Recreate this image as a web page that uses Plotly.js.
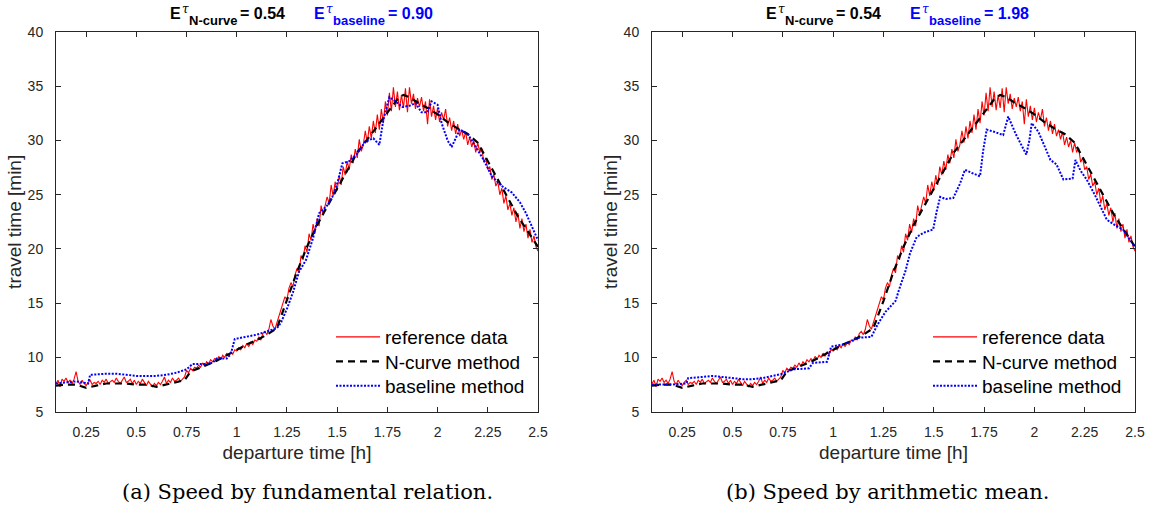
<!DOCTYPE html>
<html>
<head>
<meta charset="utf-8">
<script src="https://cdn.plot.ly/plotly-3.0.1.min.js"></script>
<style>html,body{margin:0;padding:0;background:#fff;}#chart{width:1159px;height:513px;}</style>
</head>
<body>
<div id="chart"></div>
<script>
// ---------------- DATA ----------------
// reference data (red), sampled every 0.01 h starting at 0.10 h (same in both panels)
const refStart = 0.10;
const refStep = 0.01;
const refTravel = [
  7.6, 7.9, 7.3, 8.0, 7.8, 8.1, 7.7, 7.9, 7.6, 8.0,
  8.7, 7.8, 7.5, 7.9, 7.6, 7.4, 7.7, 7.9, 7.5, 7.7,
  7.6, 7.8, 7.5, 7.9, 7.7, 8.0, 7.6, 7.8, 7.9, 7.7,
  8.1, 7.8, 7.6, 7.9, 8.2, 7.7, 7.8, 8.0, 7.6, 7.9,
  7.5, 7.8, 7.6, 8.0, 7.7, 7.4, 7.8, 7.5, 7.3, 7.6,
  7.4, 7.7, 7.5, 7.8, 8.2, 7.6, 7.9, 7.7, 8.1, 7.8,
  7.9, 8.1, 7.8, 8.0, 8.2, 8.8, 8.6, 9.0, 8.8, 9.1,
  9.0, 9.3, 9.1, 9.5, 9.2, 9.6, 9.4, 9.8, 9.6, 9.9,
  9.7, 10.1, 9.8, 10.2, 10.0, 10.4, 10.1, 10.5, 10.3, 10.7,
  10.6, 10.9, 10.7, 11.1, 10.9, 11.3, 11.0, 11.4, 11.2, 11.6,
  11.5, 11.9, 11.6, 12.2, 12.4, 12.1, 12.6, 13.5, 12.9, 12.6,
  13.2, 13.9, 14.3, 14.9, 15.6, 15.3, 16.4, 16.9, 16.5, 17.6,
  18.2, 17.8, 19.4, 19.0, 20.3, 19.7, 21.4, 20.8, 22.3, 21.5,
  22.8, 22.1, 24.0, 23.2, 23.9, 24.8, 24.2, 25.9, 24.9, 26.2,
  25.4, 26.8, 25.9, 27.6, 26.8, 28.1, 27.3, 28.7, 27.9, 29.2,
  28.4, 30.1, 29.0, 29.6, 30.9, 29.8, 31.3, 30.2, 31.8, 30.7,
  32.4, 31.0, 32.9, 31.6, 33.6, 32.3, 34.4, 32.7, 34.9, 33.1,
  34.5, 32.8, 34.2, 33.0, 34.8, 32.6, 34.9, 33.4, 34.3, 32.9,
  33.9, 33.1, 34.0, 32.7, 33.6, 31.5, 33.8, 32.2, 33.2, 31.9,
  33.0, 31.7, 32.6, 31.9, 32.9, 31.3, 32.1, 30.9, 31.8, 30.6,
  31.5, 30.4, 31.0, 30.1, 30.8, 29.6, 30.3, 29.4, 30.0, 28.9,
  29.8, 28.9, 29.3, 28.0, 28.4, 27.3, 27.6, 26.4, 26.9, 25.8,
  26.2, 25.0, 25.6, 24.2, 24.9, 23.6, 24.2, 23.1, 23.8, 22.5,
  23.3, 21.9, 22.8, 21.6, 22.3, 21.0, 21.8, 20.6, 21.2, 20.2,
  19.8
];

// N-curve method (black dashed), same in both panels
const ncurveTime = [0.10, 0.15, 0.20, 0.25, 0.30, 0.35, 0.40, 0.45, 0.50, 0.55, 0.60, 0.65, 0.70, 0.74, 0.77,
  0.80, 0.85, 0.90, 0.95, 1.00, 1.05, 1.10, 1.15, 1.20, 1.25, 1.30, 1.35, 1.40, 1.45, 1.50, 1.55, 1.60, 1.65,
  1.70, 1.75, 1.80, 1.83, 1.86, 1.90, 1.95, 2.00, 2.05, 2.10, 2.15, 2.20, 2.25, 2.30, 2.35, 2.40, 2.45, 2.50];
const ncurveTravel = [7.4, 7.5, 7.5, 7.2, 7.4, 7.6, 7.6, 7.6, 7.5, 7.5, 7.3, 7.5, 7.7, 7.9, 8.7,
  8.9, 9.3, 9.7, 10.2, 10.7, 11.2, 11.6, 12.1, 12.7, 15.2, 17.9, 20.2, 22.2, 23.9, 25.6, 27.3, 28.9, 30.1,
  31.3, 32.6, 33.8, 34.2, 34.0, 33.5, 33.0, 32.4, 31.7, 31.1, 30.6, 29.8, 28.1, 26.3, 24.7, 23.0, 21.6, 20.2];

// baseline method (blue dotted), panel (a): speed by fundamental relation
const baseATime = [0.10, 0.20, 0.26, 0.27, 0.35, 0.40, 0.45, 0.50, 0.55, 0.60, 0.65, 0.70, 0.75, 0.78, 0.80,
  0.85, 0.88, 0.90, 0.95, 0.97, 0.99, 1.05, 1.10, 1.15, 1.20, 1.22, 1.25, 1.28, 1.31, 1.345, 1.38, 1.41, 1.45,
  1.476, 1.50, 1.526, 1.56, 1.60, 1.64, 1.68, 1.71, 1.73, 1.76, 1.79, 1.825, 1.86, 1.89, 1.92, 1.95, 1.97, 2.00,
  2.02, 2.05, 2.07, 2.09, 2.11, 2.15, 2.19, 2.23, 2.27, 2.32, 2.37, 2.41, 2.44, 2.47, 2.50];
const baseATravel = [7.6, 7.8, 7.6, 8.4, 8.5, 8.5, 8.4, 8.3, 8.3, 8.3, 8.4, 8.6, 8.9, 9.4, 9.4,
  9.4, 9.5, 9.9, 9.9, 10.3, 11.7, 11.9, 12.1, 12.4, 12.7, 13.2, 14.5, 16.0, 17.9, 19.0, 21.0, 23.3, 24.0,
  24.8, 26.0, 27.9, 28.1, 28.8, 29.9, 30.2, 29.6, 31.9, 34.0, 33.6, 33.1, 33.2, 33.45, 32.6, 32.6, 33.6, 33.3,
  31.6, 30.0, 29.4, 30.2, 31.0, 30.6, 29.4, 28.2, 26.7, 25.8, 25.2, 24.3, 23.3, 22.0, 20.8];

// baseline method (blue dotted), panel (b): speed by arithmetic mean
const baseBTime = [0.10, 0.20, 0.27, 0.28, 0.35, 0.40, 0.45, 0.50, 0.55, 0.60, 0.65, 0.70, 0.75, 0.80, 0.85,
  0.88, 0.90, 0.97, 0.99, 1.05, 1.10, 1.12, 1.19, 1.22, 1.26, 1.29, 1.31, 1.332, 1.36, 1.382, 1.415, 1.45,
  1.497, 1.515, 1.532, 1.56, 1.597, 1.63, 1.655, 1.69, 1.73, 1.745, 1.763, 1.80, 1.845, 1.87, 1.91, 1.96,
  1.975, 1.987, 2.02, 2.05, 2.08, 2.11, 2.144, 2.19, 2.20, 2.204, 2.23, 2.26, 2.30, 2.36, 2.40, 2.44, 2.47, 2.50];
const baseBTravel = [7.5, 7.5, 7.6, 8.1, 8.2, 8.3, 8.2, 8.1, 8.0, 8.0, 8.1, 8.3, 8.5, 8.9, 9.0,
  9.0, 9.5, 9.6, 11.0, 11.2, 11.6, 11.8, 11.9, 13.0, 14.2, 14.8, 15.2, 16.5, 18.0, 19.6, 21.1, 21.5,
  21.8, 23.5, 24.8, 24.6, 24.7, 26.0, 27.3, 27.0, 26.7, 29.0, 31.0, 30.8, 30.5, 32.2, 30.5, 28.7,
  30.0, 31.6, 30.8, 29.5, 28.2, 27.8, 26.4, 26.5, 27.5, 28.2, 27.2, 26.4, 25.0, 22.7, 22.2, 21.8, 21.0, 20.2];

const xTickVals = [0.25, 0.5, 0.75, 1, 1.25, 1.5, 1.75, 2, 2.25, 2.5];
const xTickText = ["0.25", "0.5", "0.75", "1", "1.25", "1.5", "1.75", "2", "2.25", "2.5"];
const yTickVals = [5, 10, 15, 20, 25, 30, 35, 40];
const seriesNames = ["reference data", "N-curve method", "baseline method"];
const errNcurve = ["0.54", "0.54"];
const errBaseline = ["0.90", "1.98"];
const captions = ["(a) Speed by fundamental relation.", "(b) Speed by arithmetic mean."];

// ---------------- LAYOUT HELPERS ----------------
const W = 1159, H = 513;
const px = v => v / W;
const py = v => 1 - v / H;
const axisColor = '#262626';
const sans = 'Liberation Sans, Arial, sans-serif';

// each panel gets one single-entry legend per series so rows can be spaced like the original
function legendId(panel, k) {
  const n = panel * 3 + k + 1;
  return n === 1 ? 'legend' : 'legend' + n;
}

function traces(panel, bT, bY) {
  const suffix = panel === 0 ? '' : '2';
  const xa = 'x' + suffix, ya = 'y' + suffix;
  return [
    {x0: refStart, dx: refStep, y: refTravel, type: 'scatter', mode: 'lines', name: seriesNames[0],
     line: {color: '#ff0000', width: 1.1}, xaxis: xa, yaxis: ya, legend: legendId(panel, 0)},
    {x: ncurveTime, y: ncurveTravel, type: 'scatter', mode: 'lines', name: seriesNames[1],
     line: {color: '#000000', width: 2.2, dash: '7px,5px'}, xaxis: xa, yaxis: ya, legend: legendId(panel, 1)},
    {x: bT, y: bY, type: 'scatter', mode: 'lines', name: seriesNames[2],
     line: {color: '#0000ff', width: 2, dash: '2px,1.5px'}, xaxis: xa, yaxis: ya, legend: legendId(panel, 2)}
  ];
}

const data = [].concat(
  traces(0, baseATime, baseATravel),
  traces(1, baseBTime, baseBTravel)
);

function xAxis(domain, anchor) {
  return {
    domain: domain, anchor: anchor, range: [0.1, 2.5], tickvals: xTickVals, ticktext: xTickText,
    ticks: 'inside', ticklen: 5, tickcolor: axisColor, showline: true, linecolor: axisColor, linewidth: 1,
    mirror: 'ticks', showgrid: false, zeroline: false, ticklabelstandoff: 7,
    tickfont: {family: sans, size: 14, color: axisColor},
    title: {text: 'departure time [h]', font: {family: sans, size: 19, color: axisColor}, standoff: 7}
  };
}
function yAxis(domain, anchor) {
  return {
    domain: domain, anchor: anchor, range: [5, 40], tickvals: yTickVals,
    ticks: 'inside', ticklen: 5, tickcolor: axisColor, showline: true, linecolor: axisColor, linewidth: 1,
    mirror: 'ticks', showgrid: false, zeroline: false, ticklabelstandoff: 9,
    tickfont: {family: sans, size: 14, color: axisColor},
    title: {text: 'travel time [min]', font: {family: sans, size: 19, color: axisColor}, standoff: 0}
  };
}

const panelLeft = [56, 652];
const panelRight = [538, 1135];
const captionCenter = [307.5, 888];
const yDom = [py(411.7), py(32)];
const legendRowY = [337, 361.5, 386];

const annotations = [];
function titleParts(left, i) {
  const items = [
    {t: '<b>E</b>', dx: 113, y: 13, size: 16, color: '#000', fam: sans},
    {t: '<i>τ</i>', dx: 124.5, y: 8.5, size: 12, color: '#000', fam: 'DejaVu Serif, serif'},
    {t: '<b>N-curve</b>', dx: 131.5, y: 20, size: 13, color: '#000', fam: sans},
    {t: '<b>= ' + errNcurve[i] + '</b>', dx: 183, y: 13, size: 16, color: '#000', fam: sans},
    {t: '<b>E</b>', dx: 257, y: 13, size: 16, color: '#0000ff', fam: sans},
    {t: '<i>τ</i>', dx: 268.5, y: 8.5, size: 12, color: '#0000ff', fam: 'DejaVu Serif, serif'},
    {t: '<b>baseline</b>', dx: 275.5, y: 20, size: 13, color: '#0000ff', fam: sans},
    {t: '<b>= ' + errBaseline[i] + '</b>', dx: 331, y: 13, size: 16, color: '#0000ff', fam: sans}
  ];
  items.forEach(it => annotations.push({
    xref: 'paper', yref: 'paper', x: px(left + it.dx), y: py(it.y), xanchor: 'left', yanchor: 'middle',
    text: it.t, showarrow: false, borderpad: 0, font: {family: it.fam, size: it.size, color: it.color}
  }));
}
titleParts(panelLeft[0], 0);
titleParts(panelLeft[1], 1);
captions.forEach((c, i) => annotations.push({
  xref: 'paper', yref: 'paper', x: px(captionCenter[i]), y: py(492),
  xanchor: 'center', yanchor: 'middle', text: c, showarrow: false,
  font: {family: 'DejaVu Serif, serif', size: 21, color: '#000'}
}));

function legendAt(rightEdge, rowY) {
  return {
    x: px(rightEdge - 207), y: py(rowY), xanchor: 'left', yanchor: 'middle',
    bgcolor: 'rgba(0,0,0,0)', borderwidth: 0, font: {family: sans, size: 19, color: '#000'},
    itemwidth: 44, tracegroupgap: 0
  };
}

const layout = {
  width: W, height: H, margin: {l: 0, r: 0, t: 0, b: 0},
  paper_bgcolor: '#fff', plot_bgcolor: '#fff', showlegend: true,
  xaxis: xAxis([px(panelLeft[0]), px(panelRight[0])], 'y'),
  yaxis: yAxis(yDom, 'x'),
  xaxis2: xAxis([px(panelLeft[1]), px(panelRight[1])], 'y2'),
  yaxis2: yAxis(yDom, 'x2'),
  annotations: annotations
};
for (let p = 0; p < 2; p++) {
  for (let k = 0; k < 3; k++) {
    layout[legendId(p, k)] = legendAt(panelRight[p], legendRowY[k]);
  }
}

Plotly.newPlot('chart', data, layout, {displayModeBar: false, staticPlot: true});
</script>
</body>
</html>
